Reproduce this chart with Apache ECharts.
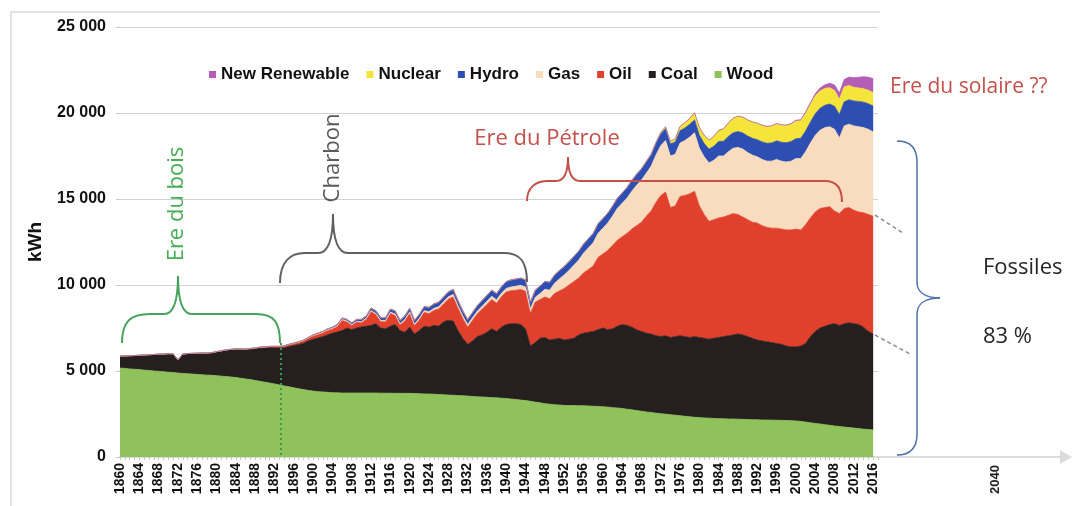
<!DOCTYPE html>
<html>
<head>
<meta charset="utf-8">
<script src="https://cdn.jsdelivr.net/npm/echarts/dist/echarts.min.js"></script>
<style>html,body{margin:0;padding:0;background:#fff}#main{width:1074px;height:506px}</style>
</head>
<body>
<div id="main"></div>
<script>
// ---- categories ----
const firstYear = 1860, lastYear = 2016;
const years = [];
for (let y = firstYear; y <= lastYear; y++) years.push(String(y));
const legendOrder = ['New Renewable', 'Nuclear', 'Hydro', 'Gas', 'Oil', 'Coal', 'Wood'];
const yTicks = [0, 5000, 10000, 15000, 20000, 25000];
const futureLabel = 2040;

// ---- series values (kWh), one per year 1860..2016 ----
const wood = [
5170,5150,5120,5100,5080,5050,5030,5000,4980,4960,
4930,4910,4880,4860,4840,4820,4800,4780,4760,4750,
4730,4700,4680,4650,4620,4580,4540,4500,4450,4400,
4350,4300,4250,4190,4130,4080,4020,3970,3920,3870,
3830,3800,3780,3760,3740,3730,3720,3720,3720,3720,
3720,3720,3720,3720,3710,3710,3710,3700,3700,3700,
3700,3690,3680,3670,3660,3650,3630,3620,3600,3590,
3570,3560,3540,3520,3500,3490,3470,3450,3440,3420,
3400,3370,3340,3310,3280,3240,3190,3150,3100,3070,
3040,3020,3000,2990,2990,2980,2980,2970,2950,2940,
2920,2900,2870,2850,2820,2780,2740,2700,2660,2620,
2590,2550,2520,2490,2460,2430,2400,2370,2340,2310,
2290,2270,2260,2240,2230,2220,2210,2210,2200,2190,
2180,2170,2160,2150,2150,2140,2140,2130,2120,2110,
2100,2070,2030,1990,1950,1920,1880,1840,1800,1770,
1740,1710,1680,1650,1620,1600,1570];

const coal = [
700,730,770,800,830,880,920,960,990,1020,
1070,1080,770,1120,1160,1190,1220,1250,1270,1300,
1370,1450,1520,1580,1630,1660,1690,1760,1830,1920,
1980,2050,2090,2140,2220,2340,2460,2570,2700,2880,
3020,3120,3220,3340,3460,3540,3630,3780,3680,3780,
3840,3880,3930,4030,3790,3740,3890,4000,3650,3550,
3850,3460,3670,3930,3890,4000,3970,4230,4350,4310,
3780,3340,3010,3230,3500,3610,3780,4000,3860,4130,
4300,4380,4410,4390,4170,3210,3460,3750,3850,3730,
3810,3880,3800,3860,3910,4120,4220,4280,4350,4460,
4580,4500,4580,4750,4880,4870,4810,4700,4640,4580,
4560,4500,4480,4560,4490,4570,4650,4630,4610,4690,
4660,4630,4590,4660,4720,4780,4840,4890,4950,4910,
4820,4730,4640,4600,4550,4510,4460,4420,4330,4290,
4300,4380,4570,5010,5350,5580,5720,5860,5950,5880,
6010,6090,6070,6050,5930,5700,5580];

const oil = [
0,0,0,0,0,0,0,0,5,5,
10,10,10,10,15,15,15,20,20,20,
25,25,30,30,35,40,40,45,50,55,
60,65,70,80,90,100,110,120,130,150,
180,205,215,255,240,310,595,350,245,330,
250,400,795,520,365,405,740,530,320,655,
780,475,610,795,785,870,1005,1040,1220,1400,
1300,1150,1000,1185,1320,1490,1620,1700,1640,1770,
1890,1920,1950,2040,2180,1900,2350,2250,2350,2400,
2650,2750,3000,3150,3300,3300,3500,3650,3800,4200,
4300,4600,4850,5000,5100,5350,5700,6050,6350,6800,
7150,7750,8200,8350,7550,7600,8100,8200,8350,8450,
7650,7200,6850,6900,6950,6950,7000,7050,6950,6850,
6800,6750,6800,6700,6650,6650,6700,6700,6750,6800,
6850,6750,6900,6900,6950,6950,6900,6850,6550,6500,
6700,6700,6600,6550,6650,6800,6850];

const gas = [
0,0,0,0,0,0,0,0,0,0,
0,0,0,0,0,0,0,0,0,0,
0,0,0,0,0,5,5,5,10,10,
10,10,15,15,15,20,20,20,25,25,
30,30,35,35,40,40,45,50,50,55,
60,60,65,70,70,75,80,80,80,85,
100,100,105,110,115,120,125,130,140,150,
150,150,150,155,160,170,180,190,190,200,
210,220,230,240,250,250,280,350,450,500,
600,700,780,850,950,1050,1150,1250,1350,1400,
1500,1600,1700,1850,1950,2050,2200,2350,2450,2500,
2600,2750,2900,3000,3000,3000,3100,3200,3300,3400,
3350,3350,3400,3450,3600,3550,3700,3800,3900,3950,
3900,3900,3850,3850,3850,3900,4000,3950,3950,4000,
4100,4150,4250,4350,4450,4550,4650,4650,4750,4400,
4800,4850,4900,4950,4950,4950,4900];

const hydro = [
0,0,0,0,0,0,0,0,0,0,
0,0,0,0,0,0,0,0,0,0,
0,0,0,0,0,0,0,0,0,0,
5,5,10,10,10,15,15,20,20,25,
40,45,50,60,70,80,90,100,105,115,
130,140,150,160,165,170,180,190,200,210,
220,225,235,245,250,260,270,280,290,300,
300,300,300,310,320,340,350,360,370,380,
400,410,420,420,420,400,420,440,460,470,
480,490,500,510,515,520,530,540,550,555,
560,570,580,590,600,610,620,630,640,650,
660,670,680,690,700,710,720,730,740,750,
760,780,800,820,840,860,880,900,920,940,
960,980,1000,1020,1040,1060,1080,1100,1120,1140,
1160,1180,1200,1220,1250,1280,1300,1320,1340,1360,
1400,1420,1450,1470,1480,1490,1500];

const nuclear = [
0,0,0,0,0,0,0,0,0,0,
0,0,0,0,0,0,0,0,0,0,
0,0,0,0,0,0,0,0,0,0,
0,0,0,0,0,0,0,0,0,0,
0,0,0,0,0,0,0,0,0,0,
0,0,0,0,0,0,0,0,0,0,
0,0,0,0,0,0,0,0,0,0,
0,0,0,0,0,0,0,0,0,0,
0,0,0,0,0,0,0,0,0,0,
0,0,0,0,0,0,0,0,0,0,
0,0,0,0,0,10,15,20,30,40,
50,70,90,110,150,200,250,300,350,420,
450,480,520,580,650,720,790,850,900,920,
940,950,960,970,980,990,1000,1000,1000,1010,
1020,1020,1030,1030,1040,1000,980,950,920,890,
870,830,790,780,780,780,780];

const renewable = [
0,0,0,0,0,0,0,0,0,0,
0,0,0,0,0,0,0,0,0,0,
0,0,0,0,0,0,0,0,0,0,
0,0,0,0,0,0,0,0,0,0,
0,0,0,0,0,0,0,0,0,0,
0,0,0,0,0,0,0,0,0,0,
0,0,0,0,0,0,0,0,0,0,
0,0,0,0,0,0,0,0,0,0,
0,0,0,0,0,0,0,0,0,0,
0,0,0,0,0,0,0,0,0,0,
0,0,0,0,0,0,0,0,0,0,
0,0,0,0,0,0,0,0,0,0,
0,0,0,0,0,0,0,0,0,0,
0,0,0,0,0,10,15,20,30,40,
50,60,80,100,130,170,210,260,320,370,
430,490,560,630,700,760,820];

// ---- styling ----
const FONT = '"Liberation Sans", Arial, sans-serif';
const ANN = '"Open Sans", "Noto Sans", sans-serif';
const colors = {
  'Wood': '#8fc25a', 'Coal': '#25201f', 'Oil': '#e0402c', 'Gas': '#f8dcbd',
  'Hydro': '#2d4fb3', 'Nuclear': '#f5e43a', 'New Renewable': '#b45eb7'
};
const stackOrder = [
  ['Wood', wood], ['Coal', coal], ['Oil', oil], ['Gas', gas],
  ['Hydro', hydro], ['Nuclear', nuclear], ['New Renewable', renewable]
];
// one empty slot after 2016 so the plot frame runs a little past the last year
const xCategories = years.concat(['']);

const chart = echarts.init(document.getElementById('main'), null, {renderer: 'canvas'});

const series = stackOrder.map(([name, arr]) => ({
  name, type: 'line', stack: 'energy', xAxisIndex: 0, yAxisIndex: 0,
  symbol: 'none', showSymbol: false, smooth: false,
  lineStyle: {width: 0.8, color: colors[name]},
  itemStyle: {color: colors[name]},
  areaStyle: {color: colors[name], opacity: 1},
  emphasis: {disabled: true},
  data: arr,
  z: 2
}));

function line(pts, stroke, w, dash) {
  return {type: 'polyline', z: 100, silent: true,
    shape: {points: pts},
    style: {stroke, lineWidth: w, fill: null, lineDash: dash || null}};
}
// annotation braces: start point + segments of ['C', c1x,c1y,c2x,c2y,x,y] or ['L', x,y]
function brace(start, segs, stroke, w) {
  const out = [];
  let [px, py] = start;
  segs.forEach(s => {
    if (s[0] === 'L') {
      out.push({type: 'line', z: 100, silent: true,
        shape: {x1: px, y1: py, x2: s[1], y2: s[2]},
        style: {stroke, lineWidth: w}});
      px = s[1]; py = s[2];
    } else {
      out.push({type: 'bezierCurve', z: 100, silent: true,
        shape: {x1: px, y1: py, cpx1: s[1], cpy1: s[2], cpx2: s[3], cpy2: s[4], x2: s[5], y2: s[6]},
        style: {stroke, lineWidth: w, fill: null}});
      px = s[5]; py = s[6];
    }
  });
  return out;
}
function text(t, x, y, size, color, align, rot) {
  return {type: 'text', z: 101, silent: true, x, y, rotation: rot || 0,
    style: {text: t, fill: color, font: size + 'px ' + ANN,
      textAlign: align || 'left', textVerticalAlign: 'middle'}};
}

const graphic = [
  // frame of the original picture
  line([[11, 506], [11, 12], [880, 12]], '#d9d9d9', 1.5),
  // Ere du bois brace + marker line
  ...brace([122, 343], [['C', 122, 322, 130, 314, 150, 314], ['L', 164, 314], ['C', 174, 314, 178, 300, 178, 276],
    ['C', 178, 300, 182, 314, 192, 314], ['L', 256, 314], ['C', 274, 314, 280, 322, 280, 343]], '#44a25a', 2),
  line([[281, 343], [281, 457]], '#3a9a50', 2, [2, 3]),
  // Charbon brace
  ...brace([280, 283], [['C', 280, 262, 290, 253, 305, 253], ['L', 318, 253], ['C', 328, 253, 333, 240, 333, 214],
    ['C', 333, 240, 338, 253, 348, 253], ['L', 505, 253], ['C', 520, 253, 527, 262, 527, 282]], '#5f5f5f', 2),
  // Ere du Pétrole brace
  ...brace([527, 201], [['C', 527, 188, 535, 181, 548, 181], ['L', 556, 181], ['C', 564, 181, 568, 172, 568, 157],
    ['C', 568, 172, 572, 181, 580, 181], ['L', 825, 181], ['C', 836, 181, 842, 188, 842, 202]], '#c4504c', 2),
  // Fossiles brace
  ...brace([897, 141], [['C', 910, 141, 917, 148, 917, 162], ['L', 917, 282], ['C', 917, 292, 925, 298, 940, 298],
    ['C', 925, 298, 917, 304, 917, 314], ['L', 917, 434], ['C', 917, 448, 910, 455, 897, 455]], '#4f71a8', 1.5),
  // dashed continuation lines
  line([[875, 215], [903, 233]], '#8c8c8c', 1.5, [4, 3]),
  line([[875, 335], [910, 354]], '#8c8c8c', 1.5, [4, 3]),
  // annotation texts
  text('Ere du bois', 177, 204, 22, '#47ad55', 'center', Math.PI / 2),
  text('Charbon', 333, 158, 22, '#5a5a5a', 'center', Math.PI / 2),
  text('Ere du Pétrole', 547, 139, 22, '#c4504c', 'center'),
  text('Ere du solaire ??', 890, 87, 21, '#c4504c'),
  text('Fossiles', 983, 268, 22, '#262626'),
  text('83 %', 983, 337, 22, '#262626')
];

const option = {
  animation: false,
  backgroundColor: '#ffffff',
  grid: [
    {left: 120, top: 27, bottom: 49, width: 758},
    {left: 120, top: 27, bottom: 49, right: 8}
  ],
  legend: {
    data: legendOrder, left: 209, top: 66, padding: 0,
    itemWidth: 7, itemHeight: 7, itemGap: 17, icon: 'rect',
    selectedMode: false,
    textStyle: {fontFamily: FONT, fontWeight: 'bold', fontSize: 17, color: '#111'}
  },
  xAxis: [
    {type: 'category', gridIndex: 0, data: xCategories, boundaryGap: false,
      axisLine: {show: false},
      axisTick: {show: true, interval: 0, length: 3, lineStyle: {color: '#c8c8c8'}},
      splitLine: {show: false},
      axisLabel: {rotate: 90, margin: 6, fontFamily: FONT, fontWeight: 'bold', fontSize: 14, color: '#111',
        interval: (i, v) => v !== '' && (Number(v) - firstYear) % 4 === 0}},
    {type: 'value', gridIndex: 1, min: firstYear, max: 2054.6, interval: 4,
      axisLine: {show: true, symbol: ['none', 'triangle'], symbolSize: [14, 12],
        lineStyle: {color: '#dcdcdc', width: 2}},
      axisTick: {show: false}, splitLine: {show: false},
      axisLabel: {rotate: 90, margin: 8, fontFamily: FONT, fontWeight: 'bold', fontSize: 13, color: '#222',
        showMaxLabel: false, formatter: v => (v === futureLabel ? String(futureLabel) : '')}}
  ],
  yAxis: [
    {type: 'value', gridIndex: 0, min: yTicks[0], max: yTicks[yTicks.length - 1], interval: yTicks[1] - yTicks[0],
      name: 'kWh', nameLocation: 'middle', nameGap: 75,
      nameTextStyle: {fontFamily: FONT, fontWeight: 'bold', fontSize: 19, color: '#111'},
      axisLine: {show: false},
      axisTick: {show: true, length: 4, lineStyle: {color: '#c8c8c8'}},
      splitLine: {show: true, lineStyle: {color: '#d2d2d2', width: 1}},
      axisLabel: {margin: 14, fontFamily: FONT, fontWeight: 'bold', fontSize: 16, color: '#111',
        formatter: v => (v === 0 ? '0' : (v / 1000) + ' 000')}},
    {type: 'value', gridIndex: 1, min: 0, max: 25000, show: false}
  ],
  series,
  graphic
};
chart.setOption(option);
</script>
</body>
</html>
